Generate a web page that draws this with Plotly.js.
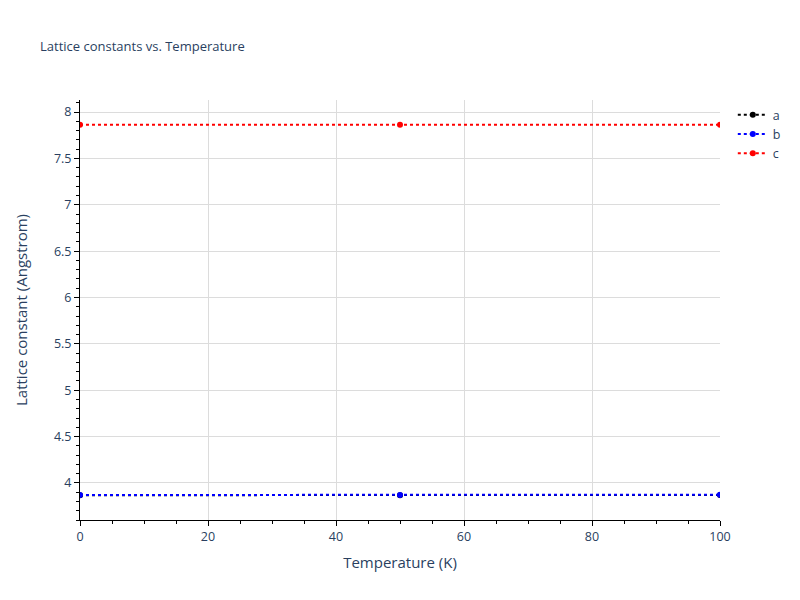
<!DOCTYPE html>
<html>
<head>
<meta charset="utf-8">
<script src="https://cdn.plot.ly/plotly-3.0.1.min.js"></script>
<style>html,body{margin:0;padding:0;background:#fff;}</style>
</head>
<body>
<div id="chart" style="width:800px;height:600px;"></div>
<script>
const temperature = [0, 50, 100];
const aValues = [3.868, 3.868, 3.869];
const bValues = [3.870, 3.870, 3.873];
const cValues = [7.862, 7.862, 7.863];
const seriesNames = ['a', 'b', 'c'];
const seriesColors = ['black', 'blue', 'red'];
const seriesValues = [aValues, bValues, cValues];

const traces = seriesNames.map((name, i) => ({
  x: temperature,
  y: seriesValues[i],
  name: name,
  mode: 'lines+markers',
  type: 'scatter',
  line: {color: seriesColors[i], dash: 'dot', width: 2},
  marker: {color: seriesColors[i], size: 6}
}));

const axisCommon = {
  showline: true,
  linecolor: 'black',
  linewidth: 1,
  ticks: 'outside',
  tickcolor: 'black',
  ticklen: 5,
  showgrid: true,
  gridcolor: '#dcdcdc',
  zeroline: false,
  tickfont: {size: 12.5, color: '#2a3f5f'}
};

const layout = {
  width: 800,
  height: 600,
  paper_bgcolor: 'white',
  plot_bgcolor: 'white',
  font: {family: '"Open Sans", verdana, arial, sans-serif', color: '#2a3f5f'},
  title: {text: 'Lattice constants vs. Temperature', font: {size: 13, color: '#2a3f5f'}, x: 0.05, xanchor: 'left', y: 0.93},
  xaxis: Object.assign({}, axisCommon, {
    title: {text: 'Temperature (K)', font: {size: 15, color: '#2a3f5f'}, standoff: 13},
    range: [0, 100],
    dtick: 20,
    minor: {dtick: 5, ticks: 'outside', ticklen: 3, tickcolor: 'black', showgrid: false}
  }),
  yaxis: Object.assign({}, axisCommon, {
    title: {text: 'Lattice constant (Angstrom)', font: {size: 15, color: '#2a3f5f'}, standoff: 22},
    range: [3.6, 8.13],
    dtick: 0.5,
    minor: {dtick: 0.1, ticks: 'outside', ticklen: 3, tickcolor: 'black', showgrid: false}
  }),
  legend: {font: {size: 12.5, color: '#2a3f5f'}},
  margin: {l: 80, r: 80, t: 100, b: 80}
};

Plotly.newPlot('chart', traces, layout, {displayModeBar: false});
</script>
</body>
</html>
